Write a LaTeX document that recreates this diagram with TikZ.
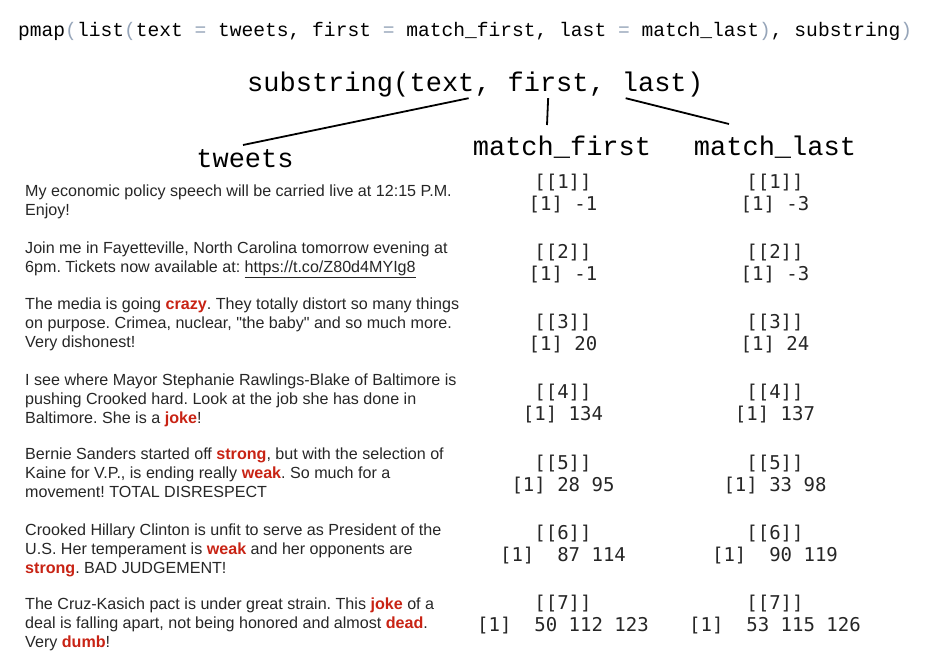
\documentclass[tikz,border=0pt]{standalone}
\usepackage{fontspec}
\setmainfont{Liberation Sans}
\setmonofont{Liberation Mono}
\newfontfamily\outfont{DejaVu Sans Mono}
\usepackage{tikz}
\usetikzlibrary{positioning}

\definecolor{hotred}{RGB}{200,35,20}
\definecolor{punct}{RGB}{150,165,185}
\newcommand{\hot}[1]{\textcolor{hotred}{\bfseries #1}}
\newcommand{\pu}[1]{\textcolor{punct}{#1}}
\frenchspacing

\begin{document}
\begin{tikzpicture}[
    % Define styles for the nodes and text
    x=1pt, y=-1pt,
    code/.style={font=\fontsize{19.6}{20}\selectfont\ttfamily, anchor=base west, inner sep=0pt},
    call/.style={font=\fontsize{27}{28}\selectfont\ttfamily, inner xsep=0pt, inner ysep=0pt, text depth=7pt},
    header/.style={font=\fontsize{27}{28}\selectfont\ttfamily, anchor=base, inner sep=0pt},
    tweet/.style={font=\fontsize{16.1}{19}\selectfont, text=black!85, align=left, anchor=base west, inner sep=0pt},
    posnum/.style={font=\fontsize{19}{22}\selectfont\outfont, text=black!85, anchor=base, inner sep=0pt},
    link/.style={line width=1.8pt}
]
    \useasboundingbox (0,0) rectangle (929,656);

    % The call at the top
    \node[code] (pmapcall) at (18,36) {pmap\pu{(}list\pu{(}text \pu{=} tweets, first \pu{=} match\_first, last \pu{=} match\_last\pu{)}, substring\pu{)}};

    % substring() split into its arguments
    \node[call, anchor=base west] (fn) at (247,91) {substring(};
    \node[call, base right=0pt of fn] (argtext) {text};
    \node[call, base right=0pt of argtext] (sep1) {,\phantom{x}};
    \node[call, base right=0pt of sep1] (argfirst) {first};
    \node[call, base right=0pt of argfirst] (sep2) {,\phantom{x}};
    \node[call, base right=0pt of sep2] (arglast) {last};
    \node[call, base right=0pt of arglast] (fnend) {)};

    % Column headers
    \node[header] (hdtweets) at (245,167) {tweets};
    \node[header] (hdfirst) at (562,155) {match\_first};
    \node[header] (hdlast) at (775,155) {match\_last};

    \coordinate (tweetsend) at (243,145);
    \coordinate (firstend) at (547,125);
    \coordinate (lastend) at (729,124);

    \draw[link] ([xshift=-6pt]argtext.south east) -- (tweetsend);
    \draw[link] (argfirst.south) -- (firstend);
    \draw[link] ([xshift=4pt]arglast.south west) -- (lastend);

    % The tweets (base = baseline of the last line)
    \node[tweet] (tw1) at (25,215) {My economic policy speech will be carried live at 12:15 P.M.\\Enjoy!};
    \node[tweet] (tw2) at (25,272) {Join me in Fayetteville, North Carolina tomorrow evening at\\6pm. Tickets now available at: \underline{https://t.co/Z80d4MYIg8}};
    \node[tweet] (tw3) at (25,347) {The media is going \hot{crazy}. They totally distort so many things\\on purpose. Crimea, nuclear, \textquotedbl the baby\textquotedbl\ and so much more.\\Very dishonest!};
    \node[tweet] (tw4) at (25,423) {I see where Mayor Stephanie Rawlings-Blake of Baltimore is\\pushing Crooked hard. Look at the job she has done in\\Baltimore. She is a \hot{joke}!};
    \node[tweet] (tw5) at (25,497) {Bernie Sanders started off \hot{strong}, but with the selection of\\Kaine for V.P., is ending really \hot{weak}. So much for a\\movement! TOTAL DISRESPECT};
    \node[tweet] (tw6) at (25,573) {Crooked Hillary Clinton is unfit to serve as President of the\\U.S. Her temperament is \hot{weak} and her opponents are\\\hot{strong}. BAD JUDGEMENT!};
    \node[tweet] (tw7) at (25,647) {The Cruz-Kasich pact is under great strain. This \hot{joke} of a\\deal is falling apart, not being honored and almost \hot{dead}.\\Very \hot{dumb}!};

    % The match positions
    \foreach \i/\fv/\lv [evaluate=\i as \y using 188+70.3*(\i-1)] in
        {1/{-1}/{-3}, 2/{-1}/{-3}, 3/{20}/{24}, 4/{134}/{137},
         5/{28 95}/{33 98}, 6/{~87 114}/{~90 119}, 7/{~50 112 123}/{~53 115 126}} {
        \node[posnum] (fidx\i) at (563,\y) {[[\i]]};
        \node[posnum] (fval\i) at ([yshift=-22pt]fidx\i.base) {[1] \fv};
        \node[posnum] (lidx\i) at (775,\y) {[[\i]]};
        \node[posnum] (lval\i) at ([yshift=-22pt]lidx\i.base) {[1] \lv};
    }
\end{tikzpicture}
\end{document}
